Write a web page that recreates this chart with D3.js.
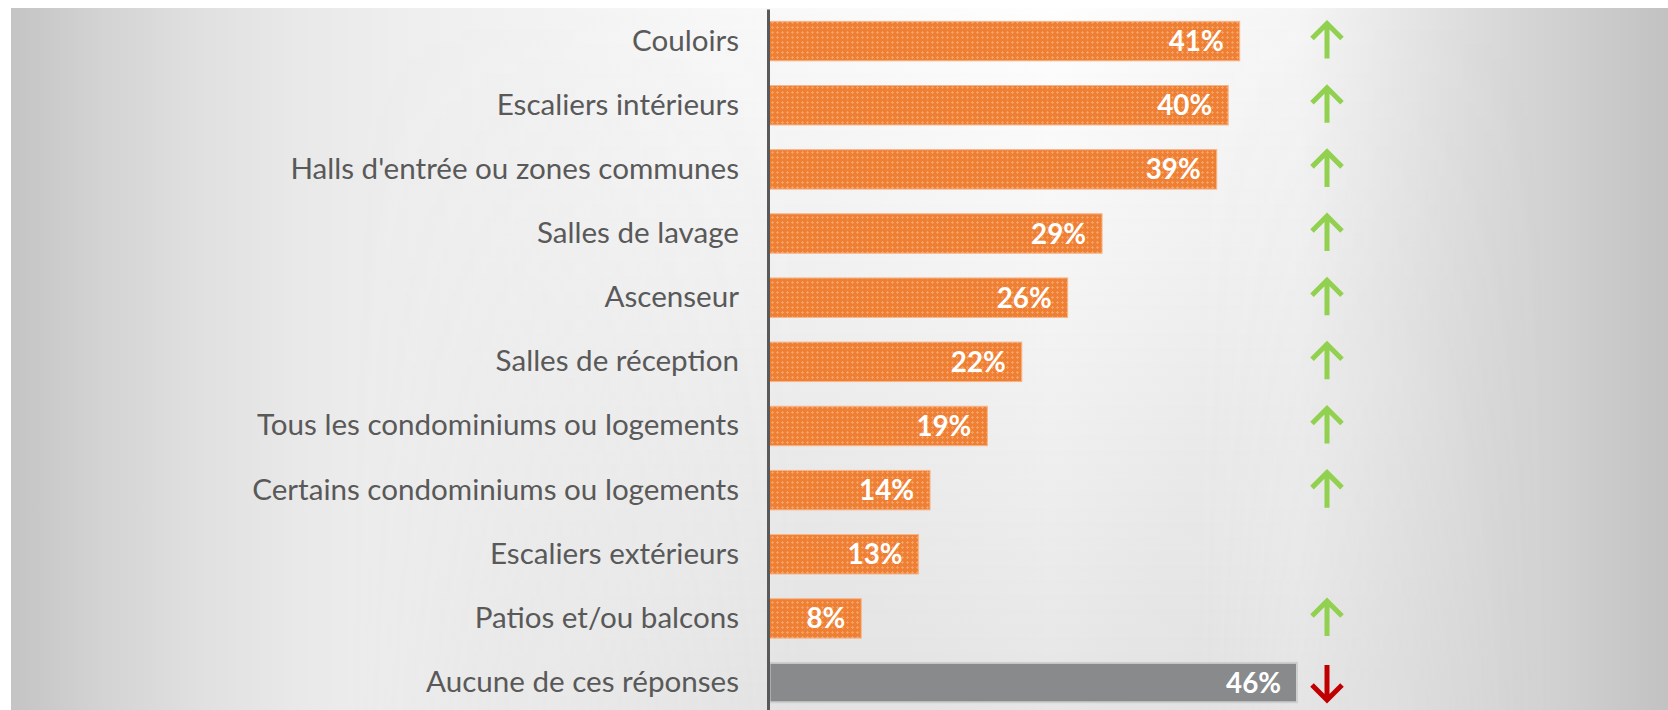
<!DOCTYPE html>
<html>
<head>
<meta charset="utf-8">
<script src="https://cdn.jsdelivr.net/npm/d3@7"></script>
<style>
  html, body { margin: 0; padding: 0; background: #ffffff; }
  svg { display: block; }
</style>
</head>
<body>
<div id="chart"></div>
<script>
// data
var categories = [
  "Couloirs",
  "Escaliers intérieurs",
  "Halls d'entrée ou zones communes",
  "Salles de lavage",
  "Ascenseur",
  "Salles de réception",
  "Tous les condominiums ou logements",
  "Certains condominiums ou logements",
  "Escaliers extérieurs",
  "Patios et/ou balcons",
  "Aucune de ces réponses"
];
var values = [41, 40, 39, 29, 26, 22, 19, 14, 13, 8, 46];
var trends = ["up", "up", "up", "up", "up", "up", "up", "up", "", "up", "down"];
var groups = ["zone", "zone", "zone", "zone", "zone", "zone", "zone", "zone", "zone", "zone", "none"];

var width = 1668, height = 710;

var svg = d3.select("#chart")
  .append("svg")
  .attr("width", width)
  .attr("height", height);

var defs = svg.append("defs");

// background: grey at the sides, light in the middle, a bit darker at the bottom centre
var bg = defs.append("linearGradient")
  .attr("id", "bgH")
  .attr("gradientUnits", "userSpaceOnUse")
  .attr("x1", 11).attr("y1", 0).attr("x2", width).attr("y2", 0);
[[11, "#c4c4c4"], [100, "#d3d3d3"], [200, "#e0e0e0"], [300, "#e9e9e9"], [400, "#eeeeee"],
 [700, "#f7f7f7"], [1050, "#fefefe"], [1300, "#f5f5f5"], [1480, "#dbdbdb"], [1668, "#c2c2c2"]]
  .forEach(function (s) {
    bg.append("stop").attr("offset", (s[0] - 11) / (width - 11)).attr("stop-color", s[1]);
  });

var shade = defs.append("linearGradient")
  .attr("id", "bgV")
  .attr("gradientUnits", "userSpaceOnUse")
  .attr("x1", 0).attr("y1", 8).attr("x2", 0).attr("y2", height);
shade.append("stop").attr("offset", 0).attr("stop-color", "#808080").attr("stop-opacity", 0);
shade.append("stop").attr("offset", 1).attr("stop-color", "#808080").attr("stop-opacity", 0.19);

var maskGrad = defs.append("linearGradient")
  .attr("id", "maskGrad")
  .attr("gradientUnits", "userSpaceOnUse")
  .attr("x1", 0).attr("y1", 0).attr("x2", width).attr("y2", 0);
[[0, "#000"], [350, "#000"], [800, "#fff"], [1200, "#fff"], [1550, "#000"], [1668, "#000"]]
  .forEach(function (s) {
    maskGrad.append("stop").attr("offset", s[0] / width).attr("stop-color", s[1]);
  });
defs.append("mask").attr("id", "midMask")
  .append("rect")
  .attr("x", 0).attr("y", 0).attr("width", width).attr("height", height)
  .attr("fill", "url(#maskGrad)");

// dotted orange texture of the bars
var pat = defs.append("pattern")
  .attr("id", "orangeDots")
  .attr("patternUnits", "userSpaceOnUse")
  .attr("width", 5).attr("height", 5);
pat.append("rect").attr("width", 5).attr("height", 5).attr("fill", "#ee7f33");
pat.append("rect").attr("x", 2).attr("y", 1).attr("width", 1).attr("height", 3).attr("fill", "#f3a166");
pat.append("rect").attr("x", 1).attr("y", 2).attr("width", 3).attr("height", 1).attr("fill", "#f3a166");

svg.append("rect")
  .attr("x", 11).attr("y", 8)
  .attr("width", width - 11).attr("height", height - 8)
  .attr("fill", "url(#bgH)");
svg.append("rect")
  .attr("x", 11).attr("y", 8)
  .attr("width", width - 11).attr("height", height - 8)
  .attr("fill", "url(#bgV)")
  .attr("mask", "url(#midMask)");

// scales
var x = d3.scaleLinear().domain([0, 46]).range([769.5, 1297]);
var y = d3.scaleBand()
  .domain(categories)
  .range([9, 9 + categories.length * 64.15])
  .paddingInner(0.385)
  .paddingOuter(0.1925);

var rows = categories.map(function (c, i) {
  return { cat: c, value: values[i], trend: trends[i], group: groups[i] };
});

// bars
svg.selectAll(".bar")
  .data(rows)
  .enter()
  .append("rect")
  .attr("class", "bar")
  .attr("x", x(0))
  .attr("y", function (d) { return y(d.cat); })
  .attr("width", function (d) { return x(d.value) - x(0); })
  .attr("height", y.bandwidth())
  .attr("fill", function (d) { return d.group == "none" ? "#888a8c" : "url(#orangeDots)"; })
  .attr("stroke", function (d) { return d.group == "none" ? "#cfcfcf" : "#f6b58a"; })
  .attr("stroke-width", function (d) { return d.group == "none" ? 2 : 1; });

// category axis
var axis = svg.append("g")
  .attr("transform", "translate(768,0)")
  .call(d3.axisLeft(y).tickSize(0).tickPadding(29));
axis.select(".domain")
  .attr("stroke", "#595959")
  .attr("stroke-width", 3);
axis.selectAll("text")
  .attr("fill", "#595959")
  .style("font-family", "Lato, 'Noto Sans', sans-serif")
  .style("font-size", "30px");

// fit the label size to the width of the longest label in the picture
var longest = 0;
axis.selectAll("text").each(function () {
  longest = Math.max(longest, this.getComputedTextLength());
});
axis.selectAll("text").style("font-size", (30 * 487 / longest) + "px");

// value labels
var vals = svg.selectAll(".val")
  .data(rows)
  .enter()
  .append("text")
  .attr("class", "val")
  .attr("x", function (d) { return x(d.value) - 16; })
  .attr("y", function (d) { return y(d.cat) + y.bandwidth() / 2; })
  .attr("dy", "0.36em")
  .attr("text-anchor", "end")
  .attr("fill", "#ffffff")
  .style("font-family", "Lato, 'Noto Sans', sans-serif")
  .style("font-weight", "bold")
  .style("font-size", "30px")
  .text(function (d) { return d.value + "%"; });

var w46 = vals.filter(function (d) { return d.value == 46; }).node().getComputedTextLength();
vals.style("font-size", (30 * 55 / w46) + "px");

// trend arrows
var arrowX = 1327, ah = 35, aw = 30, head = 15;
function arrowPath() {
  return "M0," + (-ah / 2 + 2) + "V" + (ah / 2) +
    "M" + (-aw / 2) + "," + (-ah / 2 + head) + "L0," + (-ah / 2) + "L" + (aw / 2) + "," + (-ah / 2 + head);
}

svg.selectAll(".trend")
  .data(rows.filter(function (d) { return d.trend != ""; }))
  .enter()
  .append("path")
  .attr("class", "trend")
  .attr("d", arrowPath())
  .attr("transform", function (d) {
    var cy = y(d.cat) + y.bandwidth() / 2;
    return "translate(" + arrowX + "," + cy + ")" + (d.trend == "down" ? " scale(1,-1)" : "");
  })
  .attr("fill", "none")
  .attr("stroke", function (d) { return d.trend == "down" ? "#c00000" : "#92d050"; })
  .attr("stroke-width", 5)
  .attr("stroke-linejoin", "miter");
</script>
</body>
</html>
